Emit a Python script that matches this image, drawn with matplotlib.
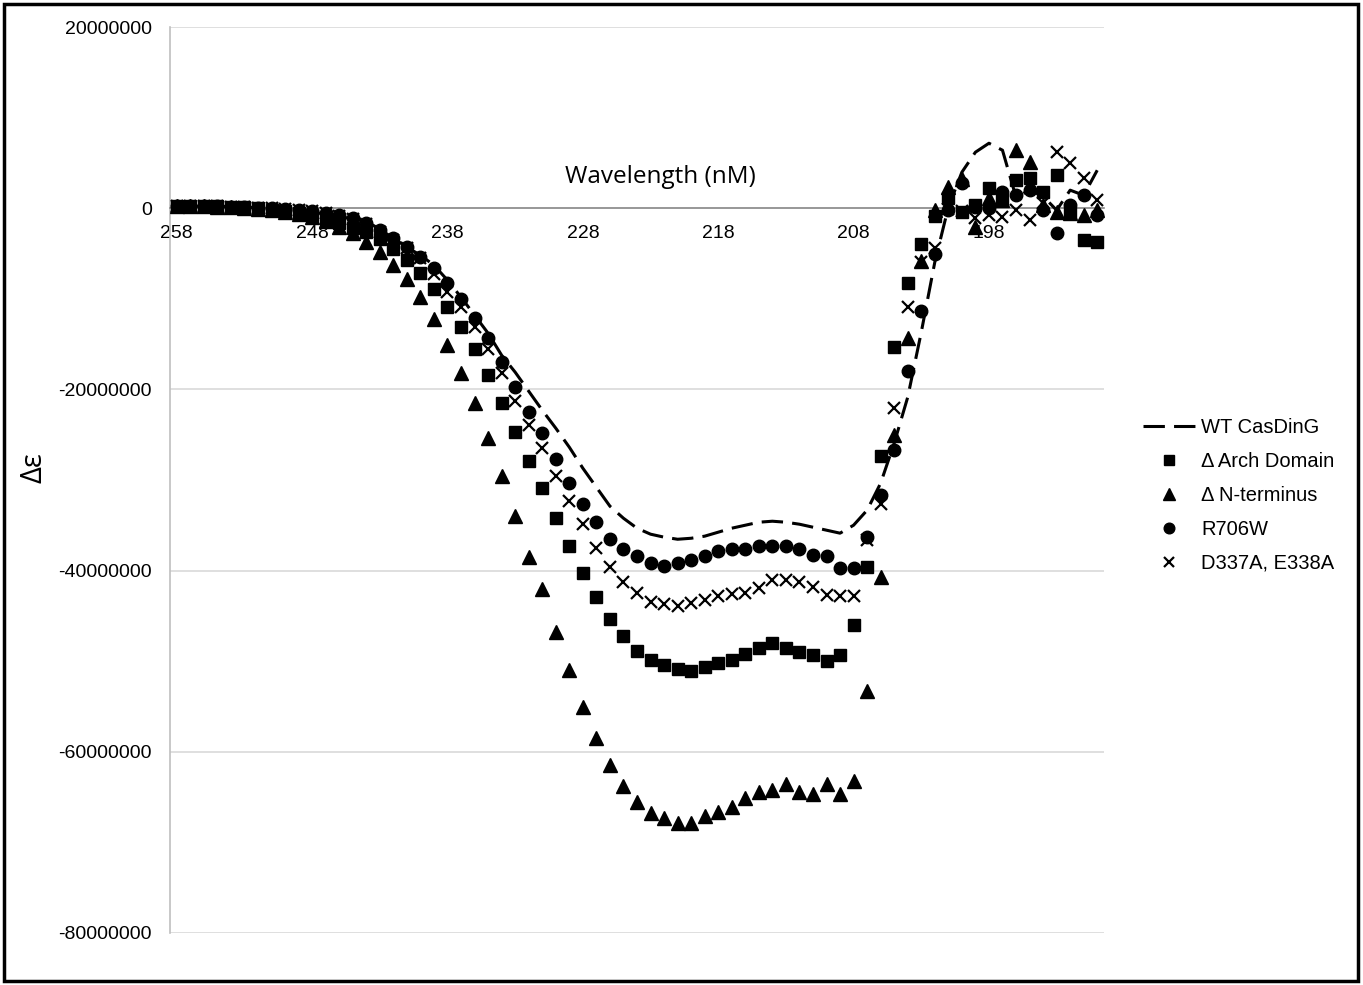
import numpy as np
import matplotlib
matplotlib.use("Agg")
import matplotlib.pyplot as plt
from matplotlib.patches import Rectangle
from matplotlib.ticker import FuncFormatter

# wavelength categories (nm), 258 -> 190
wavelength = list(range(258, 189, -1))

# delta epsilon values, in millions
wt = [0.22, 0.22, 0.22, 0.22, 0.17, 0.11, 0.06, -0.06, -0.17, -0.33,
      -0.44, -0.66, -0.88, -1.21, -1.44, -2.32, -3.31, -4.30, -5.19, -6.29,
      -7.95, -9.82, -11.81, -13.80, -16.23, -18.10, -20.20, -22.30, -24.28, -26.38,
      -28.70, -30.80, -32.89, -34.22, -35.32, -35.98, -36.31, -36.54, -36.43, -36.20,
      -35.76, -35.32, -34.99, -34.66, -34.55, -34.66, -34.88, -35.21, -35.54, -35.87,
      -34.99, -33.33, -30.35, -25.94, -20.86, -13.69, -5.96, 0.11, 3.97, 6.18,
      7.17, 6.40, 1.21, 1.99, 1.32, -0.22, 1.99, 1.43, 4.19]

arch = [0.22, 0.22, 0.22, 0.22, 0.17, 0.11, 0.0, -0.17, -0.33, -0.50,
        -0.77, -1.21, -1.66, -2.21, -2.65, -3.42, -4.53, -5.74, -7.17, -8.94,
        -10.93, -13.13, -15.56, -18.43, -21.52, -24.72, -27.93, -30.91, -34.22, -37.31,
        -40.29, -42.94, -45.37, -47.24, -48.90, -49.89, -50.44, -50.89, -51.11, -50.67,
        -50.23, -49.89, -49.23, -48.57, -48.01, -48.57, -49.01, -49.34, -50.00, -49.34,
        -46.03, -39.63, -27.37, -15.34, -8.28, -3.97, -0.88, 1.10, -0.44, 0.33,
        2.21, 0.88, 3.09, 3.31, 1.77, 3.64, -0.55, -3.53, -3.75]

nterm = [0.22, 0.22, 0.22, 0.17, 0.11, 0.06, -0.06, -0.22, -0.44, -0.66,
         -0.99, -1.43, -2.10, -2.76, -3.75, -4.86, -6.29, -7.84, -9.82, -12.25,
         -15.12, -18.21, -21.52, -25.39, -29.58, -34.00, -38.52, -42.05, -46.80, -50.99,
         -55.08, -58.50, -61.48, -63.80, -65.57, -66.78, -67.33, -67.88, -67.88, -67.11,
         -66.67, -66.12, -65.13, -64.46, -64.24, -63.58, -64.46, -64.68, -63.58, -64.68,
         -63.25, -53.31, -40.73, -25.06, -14.35, -5.85, -0.22, 2.32, 3.20, -2.10,
         1.10, 0.88, 6.40, 5.08, 0.33, -0.44, -0.55, -0.77, -0.22]

r706w = [0.22, 0.22, 0.22, 0.22, 0.17, 0.11, 0.06, 0.0, -0.11, -0.22,
         -0.33, -0.55, -0.77, -1.10, -1.66, -2.43, -3.31, -4.30, -5.41, -6.62,
         -8.28, -10.04, -12.14, -14.35, -17.00, -19.76, -22.52, -24.84, -27.70, -30.35,
         -32.67, -34.66, -36.53, -37.64, -38.41, -39.18, -39.52, -39.18, -38.85, -38.41,
         -37.86, -37.64, -37.64, -37.31, -37.31, -37.31, -37.64, -38.30, -38.41, -39.74,
         -39.74, -36.31, -31.68, -26.71, -17.99, -11.37, -5.08, -0.22, 2.76, 0.11,
         0.0, 1.77, 1.43, 1.99, -0.22, -2.76, 0.33, 1.43, -0.77]

d337a = [0.22, 0.22, 0.22, 0.22, 0.17, 0.11, 0.06, 0.0, -0.11, -0.22,
         -0.33, -0.55, -0.88, -1.21, -1.77, -2.65, -3.53, -4.42, -5.52, -7.28,
         -9.27, -10.93, -13.13, -15.56, -18.21, -21.30, -23.95, -26.49, -29.58, -32.34,
         -34.88, -37.53, -39.63, -41.28, -42.50, -43.49, -43.71, -43.93, -43.60, -43.27,
         -42.83, -42.61, -42.50, -41.94, -41.06, -41.06, -41.28, -41.84, -42.72, -42.83,
         -42.83, -36.65, -32.67, -22.08, -10.93, -5.96, -4.42, -0.11, -0.33, -1.10,
         -0.77, -0.99, -0.22, -1.32, 0.55, 6.18, 4.97, 3.31, 0.88]

labels = ["WT CasDinG", "\u0394 Arch Domain", "\u0394 N-terminus", "R706W", "D337A, E338A"]

plt.rcParams['font.family'] = ['Liberation Sans', 'DejaVu Sans']

fig = plt.figure(figsize=(13.63, 9.85), dpi=100)
ax = fig.add_axes([170 / 1363, 1 - 933 / 985, 934 / 1363, 906 / 985])

x = np.array(wavelength)
ax.plot(x, np.array(wt) * 1e6, color='black', lw=2.2, dashes=(7, 3), label=labels[0], zorder=3)
ax.plot(x, np.array(arch) * 1e6, 's', color='black', ms=8.5, ls='none', label=labels[1], zorder=4)
ax.plot(x, np.array(nterm) * 1e6, '^', color='black', ms=9.5, ls='none', label=labels[2], zorder=5)
ax.plot(x, np.array(r706w) * 1e6, 'o', color='black', ms=9, ls='none', label=labels[3], zorder=6)
ax.plot(x, np.array(d337a) * 1e6, 'x', color='black', ms=8, mew=1.6, ls='none', label=labels[4], zorder=7)

ax.set_xlim(258.5, 189.5)
ax.set_ylim(-80e6, 20e6)
ax.set_xticks([258, 248, 238, 228, 218, 208, 198])
ax.set_yticks([-80e6, -60e6, -40e6, -20e6, 0, 20e6])
ax.yaxis.set_major_formatter(FuncFormatter(lambda v, p: f"{v:.0f}"))
ax.tick_params(axis='both', length=0, labelsize=14)
ax.tick_params(axis='y', pad=13)
ax.tick_params(axis='x', pad=12)

ax.grid(axis='y', color='#d9d9d9', lw=1.2)
ax.set_axisbelow(True)
for s in ['top', 'right']:
    ax.spines[s].set_visible(False)
ax.spines['bottom'].set_position(('data', 0))
ax.spines['bottom'].set_color('#8c8c8c')
ax.spines['bottom'].set_linewidth(1.2)
ax.spines['left'].set_color('#bfbfbf')
ax.spines['left'].set_linewidth(1.2)

ax.text(0.5246, 0.8346, "Wavelength (nM)", transform=ax.transAxes, ha='center', va='center',
        fontsize=17.5, family=['Open Sans', 'DejaVu Sans'])
fig.text(34 / 1363, 1 - 468 / 985, "\u0394\u03b5", rotation=90, ha='center', va='center',
         fontsize=21, family=['Open Sans', 'DejaVu Sans'])

fig.legend(loc='upper left', bbox_to_anchor=(1143 / 1363, 1 - 418 / 985), frameon=False,
           fontsize=14.5, handlelength=2.6, handletextpad=0.3, labelspacing=0.74,
           borderpad=0, borderaxespad=0, markerscale=0.85)

fig.patches.append(Rectangle((0.003, 0.004), 0.993, 0.992, transform=fig.transFigure,
                             fill=False, ec='black', lw=2.5))

fig.savefig("out.png", dpi=100)
